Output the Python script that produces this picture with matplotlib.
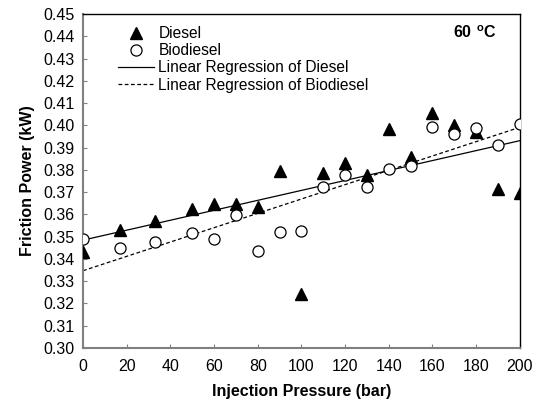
import numpy as np
import matplotlib
matplotlib.use("Agg")
import matplotlib.pyplot as plt

plt.rcParams['font.family'] = ['Liberation Sans', 'DejaVu Sans']
plt.rcParams['mathtext.fontset'] = 'custom'
plt.rcParams['mathtext.rm'] = 'Liberation Sans'
plt.rcParams['mathtext.bf'] = 'Liberation Sans:bold'

pressure = [0, 17, 33, 50, 60, 70, 80, 90, 100, 110, 120, 130, 140, 150, 160, 170, 180, 190, 200]
diesel = [0.343, 0.353, 0.357, 0.3626, 0.3645, 0.3646, 0.3635, 0.3795, 0.3243, 0.3785,
          0.3832, 0.3777, 0.3982, 0.3857, 0.4054, 0.4002, 0.397, 0.3713, 0.3695]
biodiesel = [0.349, 0.3447, 0.3475, 0.3515, 0.3488, 0.3597, 0.3437, 0.352, 0.3527, 0.3722,
             0.3777, 0.3725, 0.3803, 0.3819, 0.3994, 0.396, 0.3987, 0.3912, 0.4006]

x = np.array(pressure, dtype=float)
fig = plt.figure(figsize=(5.37, 4.03), dpi=100)
ax = fig.add_axes([0.1546, 0.1365, 0.8134, 0.8285])

xs = np.array([0, 200], dtype=float)
pd_ = np.polyfit(x, diesel, 1)
pb_ = np.polyfit(x, biodiesel, 1)
ax.plot(xs, np.polyval(pd_, xs), color='black', lw=0.9, ls='-', zorder=2,
        label='Linear Regression of Diesel')
ax.plot(xs, np.polyval(pb_, xs), color='black', lw=0.9, ls=(0, (3, 2)), zorder=2,
        label='Linear Regression of Biodiesel')
h1, = ax.plot(x, diesel, ls='none', marker='^', ms=8.5, color='black', zorder=3, label='Diesel')
h2, = ax.plot(x, biodiesel, ls='none', marker='o', ms=8, mfc='white', mec='black', mew=0.9,
              zorder=4, label='Biodiesel')

ax.set_xlim(0, 200)
ax.set_ylim(0.30, 0.45)
ax.set_xticks(np.arange(0, 201, 20))
ax.set_yticks(np.arange(0.30, 0.4501, 0.01))
ax.set_yticklabels([f'{v:.2f}' for v in np.arange(0.30, 0.4501, 0.01)])
ax.tick_params(direction='in', length=3, color='#808080', labelsize=11.5)
ax.tick_params(axis='x', pad=8)
ax.tick_params(axis='y', pad=6)

for s in ['left', 'bottom']:
    ax.spines[s].set_color('#808080')
    ax.spines[s].set_linewidth(1.5)
for s in ['top', 'right']:
    ax.spines[s].set_color('black')
    ax.spines[s].set_linewidth(1.0)

ax.set_xlabel('Injection Pressure (bar)', fontsize=11.5, fontweight='bold', labelpad=7)
ax.set_ylabel('Friction Power (kW)', fontsize=11.5, fontweight='bold', labelpad=6)

handles, labels = ax.get_legend_handles_labels()
order = [2, 3, 0, 1]
ax.legend([handles[i] for i in order], [labels[i] for i in order], loc='upper left',
          bbox_to_anchor=(0.055, 0.997), frameon=False, fontsize=11.2, handlelength=2.3,
          handletextpad=0.3, labelspacing=0.14, borderaxespad=0.3)

ax.text(0.947, 0.97, r'$\mathbf{60\ ^{o}C}$', transform=ax.transAxes, ha='right', va='top',
        fontsize=11.5)

fig.savefig('out.png', dpi=100)
